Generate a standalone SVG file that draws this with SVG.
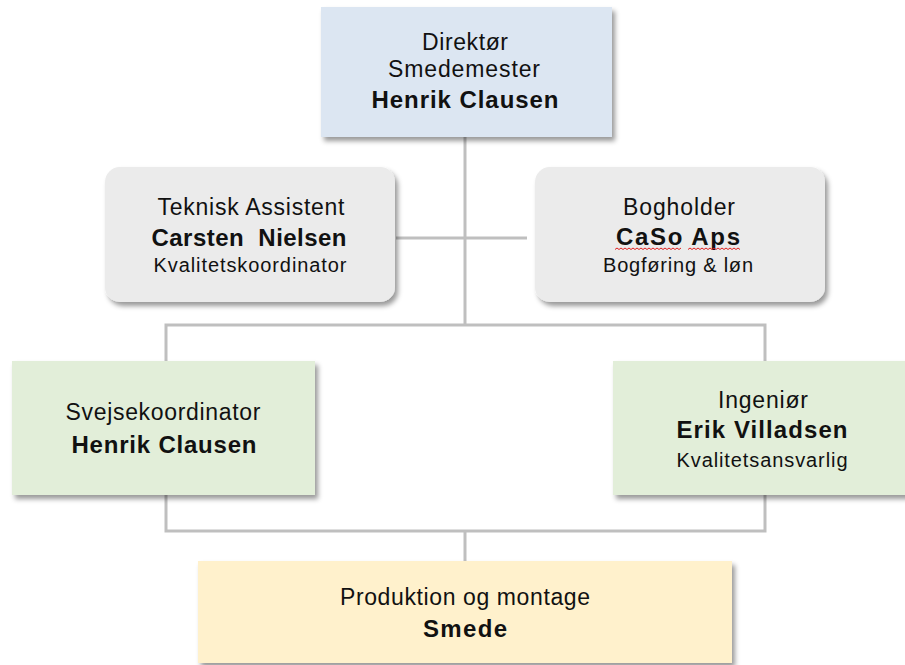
<svg xmlns="http://www.w3.org/2000/svg" width="905" height="665" viewBox="0 0 905 665">
<defs>
<filter id="sh" x="-10%" y="-10%" width="130%" height="140%">
<feDropShadow dx="3" dy="4" stdDeviation="2.5" flood-color="#000" flood-opacity="0.4"/>
</filter>
<style>
text{font-family:"Liberation Sans",Arial,sans-serif;fill:#111;text-anchor:middle}
.r{font-size:23px}
.b{font-size:24px;font-weight:bold}
.s{font-size:20px}
.c{fill:none;stroke:#bfbfbf;stroke-width:3}
.box{filter:url(#sh)}
</style>
</defs>
<rect width="905" height="665" fill="#fff"/>
<g id="connectors">
<path class="c" d="M465 137V325"/>
<path class="c" d="M396 238H527"/>
<path class="c" d="M166 361V325H765V361"/>
<path class="c" d="M166 495V531H765V495"/>
<path class="c" d="M465 531V561"/>
</g>
<g id="direktor">
<rect class="box" x="321" y="7" width="291" height="130" fill="#dce6f2"/>
<text class="r" x="465" y="50" textLength="86" lengthAdjust="spacing">Direktør</text>
<text class="r" x="464" y="77" textLength="152" lengthAdjust="spacing">Smedemester</text>
<text class="b" x="465" y="108" textLength="187" lengthAdjust="spacing">Henrik Clausen</text>
</g>
<g id="teknisk">
<rect class="box" x="105" y="167" width="290" height="135" rx="15" fill="#ebebeb"/>
<text class="r" x="251" y="215" textLength="187" lengthAdjust="spacing">Teknisk Assistent</text>
<text class="b" x="249" y="246" textLength="195" lengthAdjust="spacing" xml:space="preserve">Carsten  Nielsen</text>
<text class="s" x="250" y="272" textLength="193" lengthAdjust="spacing">Kvalitetskoordinator</text>
</g>
<g id="bogholder">
<rect class="box" x="535" y="167" width="290" height="135" rx="15" fill="#ebebeb"/>
<text class="r" x="679" y="215" textLength="112" lengthAdjust="spacing">Bogholder</text>
<text class="b" x="678" y="245" textLength="124" lengthAdjust="spacing">CaSo Aps</text>
<path d="M615 249.5l2-1.5 2 1.5 2-1.5 2 1.5 2-1.5 2 1.5 2-1.5 2 1.5 2-1.5 2 1.5 2-1.5 2 1.5 2-1.5 2 1.5 2-1.5 2 1.5 2-1.5 2 1.5 2-1.5 2 1.5 2-1.5 2 1.5 2-1.5 2 1.5 2-1.5 2 1.5 2-1.5 2 1.5 2-1.5 2 1.5 2-1.5 2 1.5 2-1.5M688 249.5l2-1.5 2 1.5 2-1.5 2 1.5 2-1.5 2 1.5 2-1.5 2 1.5 2-1.5 2 1.5 2-1.5 2 1.5 2-1.5 2 1.5 2-1.5 2 1.5 2-1.5 2 1.5 2-1.5 2 1.5 2-1.5 2 1.5 2-1.5 2 1.5 2-1.5 2 1.5" fill="none" stroke="#e02020" stroke-width="1"/>
<text class="s" x="678" y="272" textLength="150" lengthAdjust="spacing">Bogføring &amp; løn</text>
</g>
<g id="svejse">
<rect class="box" x="12" y="361" width="303" height="134" fill="#e2eed9"/>
<text class="r" x="163" y="420" textLength="195" lengthAdjust="spacing">Svejsekoordinator</text>
<text class="b" x="164" y="453" textLength="185" lengthAdjust="spacing">Henrik Clausen</text>
</g>
<g id="ingenior">
<rect class="box" x="613" y="361" width="300" height="134" fill="#e2eed9"/>
<text class="r" x="763" y="408" textLength="90" lengthAdjust="spacing">Ingeniør</text>
<text class="b" x="762" y="438" textLength="171" lengthAdjust="spacing">Erik Villadsen</text>
<text class="s" x="762" y="467" textLength="171" lengthAdjust="spacing">Kvalitetsansvarlig</text>
</g>
<g id="produktion">
<rect class="box" x="198" y="561" width="534" height="102" fill="#fff1cc"/>
<text class="r" x="465" y="605" textLength="250" lengthAdjust="spacing">Produktion og montage</text>
<text class="b" x="465" y="637" textLength="84" lengthAdjust="spacing">Smede</text>
</g>
</svg>
